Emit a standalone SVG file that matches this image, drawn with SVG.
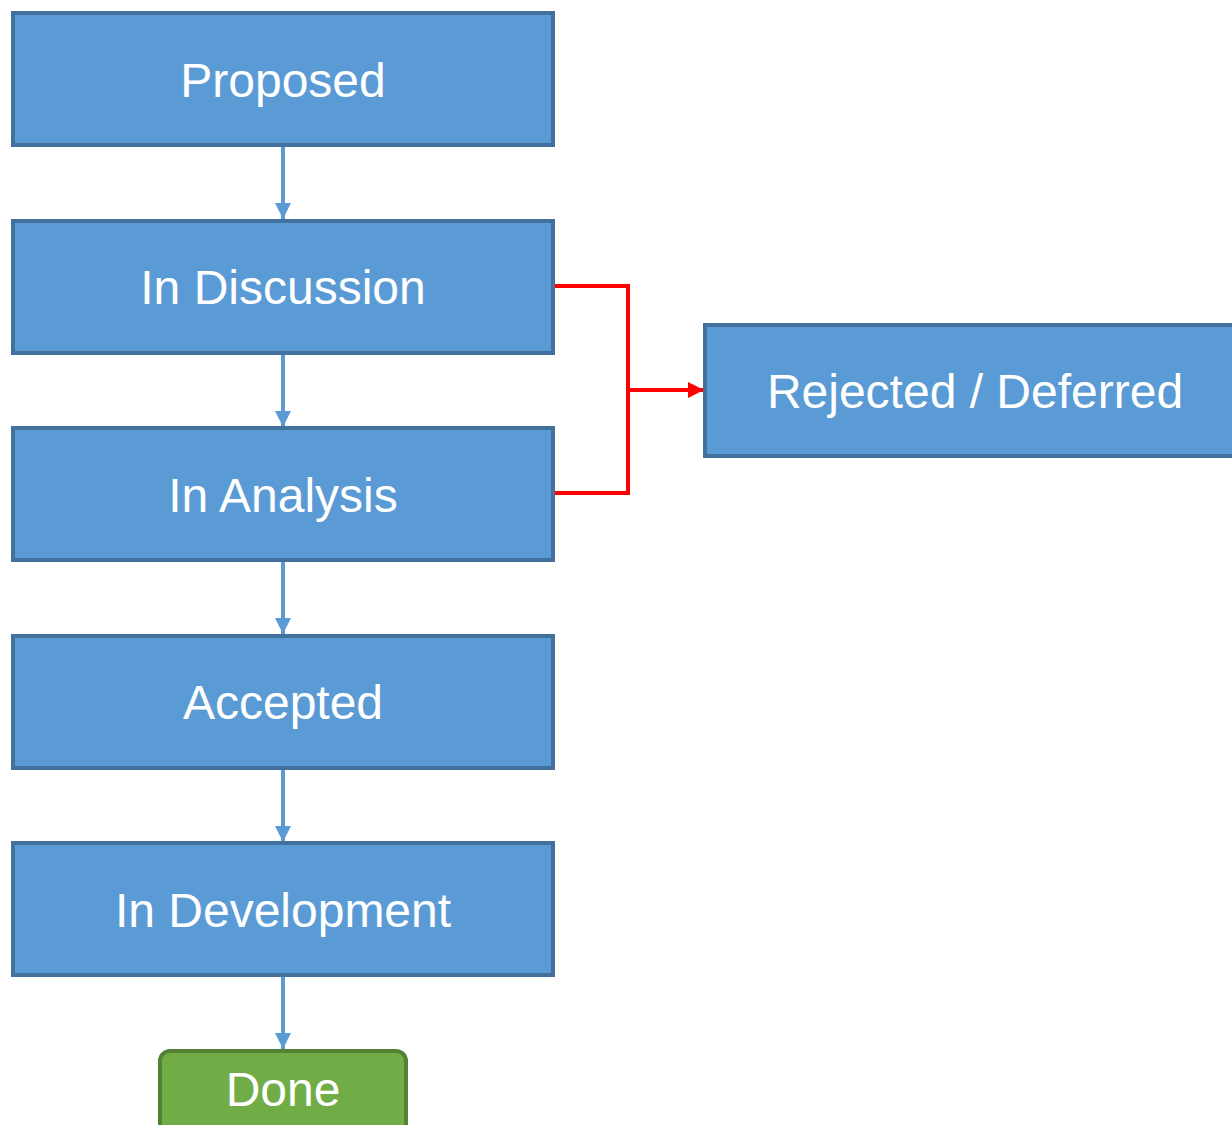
<svg xmlns="http://www.w3.org/2000/svg" width="1232" height="1125" viewBox="0 0 1232 1125">
<style>
.box{fill:#5B9BD5;stroke:#41719C;stroke-width:4}
.done{fill:#70AD47;stroke:#548235;stroke-width:4}
.lbl{fill:#fff;font-family:"Liberation Sans",Arial,sans-serif;font-size:48px;text-anchor:middle}
.blue{stroke:#5B9BD5;stroke-width:4;fill:none}
.red{stroke:#FF0000;stroke-width:4;fill:none}
</style>
<defs>
<marker id="ab" markerUnits="userSpaceOnUse" markerWidth="18" markerHeight="18" refX="16" refY="8" orient="auto"><path d="M0,0 L16,8 L0,16 Z" fill="#5B9BD5"/></marker>
<marker id="ar" markerUnits="userSpaceOnUse" markerWidth="18" markerHeight="18" refX="16" refY="8" orient="auto"><path d="M0,0 L16,8 L0,16 Z" fill="#FF0000"/></marker>
</defs>
<rect width="1232" height="1125" fill="#fff"/>
<g id="connectors">
<line class="blue" x1="283" y1="146" x2="283" y2="219" marker-end="url(#ab)"/>
<line class="blue" x1="283" y1="354" x2="283" y2="427" marker-end="url(#ab)"/>
<line class="blue" x1="283" y1="561" x2="283" y2="634" marker-end="url(#ab)"/>
<line class="blue" x1="283" y1="769" x2="283" y2="842" marker-end="url(#ab)"/>
<line class="blue" x1="283" y1="977" x2="283" y2="1049" marker-end="url(#ab)"/>
<polyline class="red" points="553,286 628,286 628,493 553,493"/>
<line class="red" x1="628" y1="390" x2="704" y2="390" marker-end="url(#ar)"/>
</g>
<g id="proposed"><rect class="box" x="13" y="13" width="540" height="132"/><text class="lbl" x="283" y="97">Proposed</text></g>
<g id="in-discussion"><rect class="box" x="13" y="221" width="540" height="132"/><text class="lbl" x="283" y="304">In Discussion</text></g>
<g id="in-analysis"><rect class="box" x="13" y="428" width="540" height="132"/><text class="lbl" x="283" y="512">In Analysis</text></g>
<g id="accepted"><rect class="box" x="13" y="636" width="540" height="132"/><text class="lbl" x="283" y="719">Accepted</text></g>
<g id="in-development"><rect class="box" x="13" y="843" width="540" height="132"/><text class="lbl" x="283" y="927">In Development</text></g>
<g id="rejected-deferred"><rect class="box" x="705" y="325" width="540" height="131"/><text class="lbl" x="975" y="408">Rejected / Deferred</text></g>
<g id="done"><rect class="done" x="160" y="1051" width="246" height="90" rx="10"/><text class="lbl" x="283" y="1106">Done</text></g>
</svg>
